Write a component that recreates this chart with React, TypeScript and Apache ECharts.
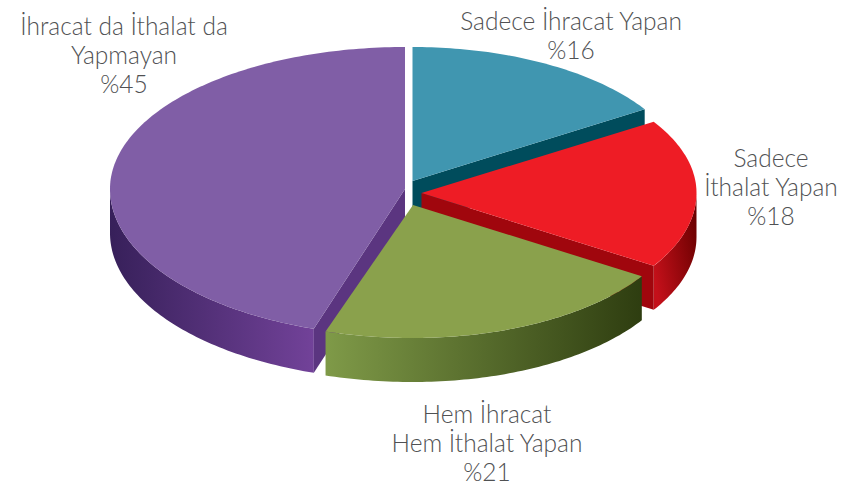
import React, { useEffect, useRef } from "react";
import * as echarts from "echarts";

const categories = [
  "Sadece İhracat Yapan",
  "Sadece\nİthalat Yapan",
  "Hem İhracat\nHem İthalat Yapan",
  "İhracat da İthalat da\nYapmayan",
];
const values = [16, 18, 21, 45];

// Visual layout of each exploded wedge (apex, radii, paint order)
const apexX = [412.5, 421.5, 413, 405];
const apexY = [181, 193, 205, 189];
const radiusRight = [275, 275, 271, 295];
const radiusLeft = [275, 275, 283, 295];
const radiusBack = [134, 133, 134, 142];
const radiusFront = [134, 136, 133, 147];
const order = [1, 2, 3, 0];
const DEPTH = 44;

const topColors = ["#4096b0", "#ee1c25", "#8aa14c", "#805ea6"];
const cutColors = ["#004c5c", "#a0060d", "#8aa14c", "#5b3580"];
const rimStops: string[][] = [
  ["#004c5c", "#004c5c"],
  ["#c4101a", "#6a0000"],
  ["#7f9a48", "#2e3d10"],
  ["#37205a", "#724299"],
];
const labelX = [571, 771, 487, 124];
const labelY = [35, 186, 442, 54];

const total = values.reduce((a, b) => a + b, 0);
const starts = values.map((_, i) => values.slice(0, i).reduce((a, b) => a + b, 0));

function renderItem(params: any, api: any) {
  const i = params.dataIndex;
  const v = api.value(0);
  const a0 = (starts[i] / total) * 360;
  const a1 = a0 + (v / total) * 360;
  const pt = (deg: number, dy = 0) => {
    const t = (deg * Math.PI) / 180;
    const c = Math.cos(t);
    const s = Math.sin(t);
    const ry = c >= 0 ? radiusBack[i] : radiusFront[i];
    const rx = s >= 0 ? radiusRight[i] : radiusLeft[i];
    return [apexX[i] + rx * s, apexY[i] - ry * c + dy];
  };
  const arc = (from: number, to: number, dy = 0) => {
    const pts: number[][] = [];
    const n = Math.max(1, Math.ceil(Math.abs(to - from)));
    for (let k = 0; k <= n; k++) pts.push(pt(from + ((to - from) * k) / n, dy));
    return pts;
  };
  const z = order[i] * 10;
  const children: any[] = [];
  // outer wall, only where it faces the viewer
  const r0 = Math.max(a0, 90);
  const r1 = Math.min(a1, 270);
  if (r1 > r0) {
    const reversed = i === 1;
    children.push({
      type: "polygon",
      z2: z + 1,
      shape: { points: [...arc(r0, r1), ...arc(r1, r0, DEPTH)] },
      style: {
        fill: {
          type: "linear",
          x: reversed ? 1 : 0,
          y: reversed ? 0.2 : 0,
          x2: reversed ? 0 : 1,
          y2: reversed ? 0.7 : 0,
          colorStops: reversed
            ? [
                { offset: 0, color: rimStops[i][1] },
                { offset: 1, color: rimStops[i][0] },
              ]
            : [
                { offset: 0, color: rimStops[i][0] },
                { offset: 1, color: rimStops[i][1] },
              ],
        },
      },
    });
  }
  // radial cut wall that faces the viewer
  const apex = [apexX[i], apexY[i]];
  const cutAngle = a1 < 180 ? a1 : a1 >= 359.999 ? a0 : null;
  if (cutAngle !== null) {
    const e = pt(cutAngle);
    children.push({
      type: "polygon",
      z2: z + 1,
      shape: { points: [apex, e, [e[0], e[1] + DEPTH], [apex[0], apex[1] + DEPTH]] },
      style: { fill: cutColors[i] },
    });
  }
  // top face
  children.push({
    type: "polygon",
    z2: z + 2,
    shape: { points: [apex, ...arc(a0, a1)] },
    style: { fill: topColors[i] },
  });
  return { type: "group", children };
}

export default function App() {
  const ref = useRef<HTMLDivElement>(null);
  useEffect(() => {
    document.body.style.margin = "0";
    const chart = echarts.init(ref.current!, null, { renderer: "svg" });
    chart.setOption({
      animation: false,
      backgroundColor: "#ffffff",
      series: [
        {
          type: "custom",
          coordinateSystem: "none",
          renderItem,
          data: values.map((v) => [v]),
          silent: true,
        },
      ],
      graphic: categories.map((c, i) => ({
        type: "text",
        z: 100,
        x: labelX[i],
        y: labelY[i],
        style: {
          text: `${c}\n%${values[i]}`,
          fill: "#505153",
          font: '300 24.5px "Lato", sans-serif',
          lineHeight: 29,
          align: "center",
          verticalAlign: "middle",
        },
      })),
    });
    return () => chart.dispose();
  }, []);
  return <div ref={ref} style={{ width: 845, height: 487 }} />;
}
